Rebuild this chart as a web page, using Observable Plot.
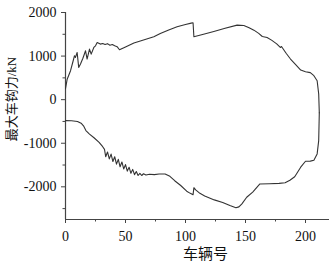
<!DOCTYPE html>
<html>
<head>
<meta charset="utf-8">
<script src="https://cdn.jsdelivr.net/npm/d3@7"></script>
<script src="https://cdn.jsdelivr.net/npm/@observablehq/plot@0.6"></script>
<style>
  html, body { margin: 0; padding: 0; background: #fff; }
  #chart svg { display: block; }
</style>
</head>
<body>
<div id="chart"></div>
<script>
// Upper curve: maximum tensile coupler force (kN) vs vehicle number
const upperX = [0, 1.4, 4.2, 6.4, 7.5, 8.3, 9.7, 11, 12.5, 14.5, 16.7, 18, 20, 21.4, 23.6, 25, 26.4, 29, 31, 33, 35, 37, 39, 41, 43, 45, 50, 57, 65, 73.6, 79, 86, 93, 100, 104.7, 106.3, 107, 115, 123.6, 133, 143, 148.6, 153, 157, 161, 164, 168, 172, 176, 179, 180, 181, 184, 187.5, 192, 196, 200, 204, 207, 209.7, 211, 211.5];
const upperY = [250, 470, 664, 893, 1008, 969, 1083, 740, 817, 950, 1122, 932, 1160, 1045, 1198, 1236, 1312, 1275, 1290, 1265, 1285, 1250, 1265, 1235, 1215, 1145, 1210, 1300, 1370, 1443, 1518, 1600, 1672, 1725, 1756, 1765, 1443, 1500, 1565, 1640, 1710, 1700, 1650, 1595, 1520, 1450, 1427, 1360, 1280, 1198, 1220, 1180, 1060, 932, 800, 680, 641, 620, 550, 435, 130, -300];

// Lower curve: maximum compressive coupler force (kN)
const lowerX = [0, 5, 10, 13, 15, 17, 20, 24, 28, 31, 32.5, 33.5, 35, 36.5, 38, 39.5, 41, 42.5, 44, 45.5, 47, 48.5, 50, 51.5, 53, 54.5, 56, 57.5, 59, 60.5, 62, 63.5, 65, 67, 70, 74, 78, 83, 87, 91, 96, 101, 104, 106.3, 107, 108.5, 112, 116, 124, 131, 137, 142, 144.5, 147, 151, 156, 162, 170, 178, 183, 187, 191, 196, 200, 204, 207, 209.7, 211, 211.5];
const lowerY = [-480, -485, -500, -540, -600, -710, -790, -880, -980, -1080, -1140, -1310, -1200, -1360, -1250, -1420, -1310, -1480, -1370, -1540, -1430, -1590, -1490, -1640, -1550, -1690, -1600, -1720, -1650, -1740, -1690, -1740, -1700, -1730, -1710, -1720, -1705, -1705, -1760, -1860, -1970, -2100, -2150, -2180, -2020, -2070, -2150, -2210, -2300, -2360, -2430, -2480, -2460, -2390, -2240, -2120, -1935, -1928, -1922, -1905, -1850, -1770, -1550, -1413, -1410, -1390, -1245, -940, -300];

const xTicks = [0, 50, 100, 150, 200];
const xMinor = [25, 75, 125, 175];
const yTicks = [-2000, -1000, 0, 1000, 2000];
const yMinor = [-2500, -1500, -500, 500, 1500];
const xLabel = "车辆号";
const yLabel = "最大车钩力/kN";

const upper = upperX.map((x, i) => ({x, y: upperY[i]}));
const lower = lowerX.map((x, i) => ({x, y: lowerY[i]}));

const axisColor = "#444";
const serif = "'Liberation Serif', 'Times New Roman', 'Noto Sans CJK SC', serif";

const chart = Plot.plot({
  width: 335,
  height: 267,
  marginLeft: 65,
  marginRight: 6,
  marginTop: 12,
  marginBottom: 48,
  x: {domain: [0, 220]},
  y: {domain: [-2750, 2000]},
  style: {fontFamily: serif, fontSize: "14px", color: "#111", background: "#fff", overflow: "visible"},
  marks: [
    Plot.ruleX([0], {stroke: axisColor, strokeWidth: 1.2}),
    Plot.ruleY([-2750], {stroke: axisColor, strokeWidth: 1.2}),
    Plot.axisY({ticks: yTicks, tickSize: 4, tickPadding: 5, tickFormat: d => String(d), label: null, stroke: axisColor, fontSize: 14}),
    Plot.axisY({ticks: yMinor, tickSize: 2.5, tickFormat: () => "", label: null, stroke: axisColor}),
    Plot.axisX({ticks: xTicks, tickSize: 4, tickPadding: 8, tickFormat: d => String(d), label: null, stroke: axisColor, fontSize: 14}),
    Plot.axisX({ticks: xMinor, tickSize: 2.5, tickFormat: () => "", label: null, stroke: axisColor}),
    Plot.line(upper, {x: "x", y: "y", stroke: "#333", strokeWidth: 1.1}),
    Plot.line(lower, {x: "x", y: "y", stroke: "#333", strokeWidth: 1.1}),
    Plot.text([yLabel], {text: d => d, frameAnchor: "left", textAnchor: "middle", lineAnchor: "middle", dx: -54, dy: -17, rotate: -90, fontSize: 13, fill: "#111", fontFamily: serif}),
    Plot.text([xLabel], {text: d => d, frameAnchor: "bottom", textAnchor: "middle", lineAnchor: "middle", dx: 8, dy: 34.5, fontSize: 15, fill: "#111", fontFamily: serif})
  ]
});
document.getElementById("chart").appendChild(chart);
</script>
</body>
</html>
